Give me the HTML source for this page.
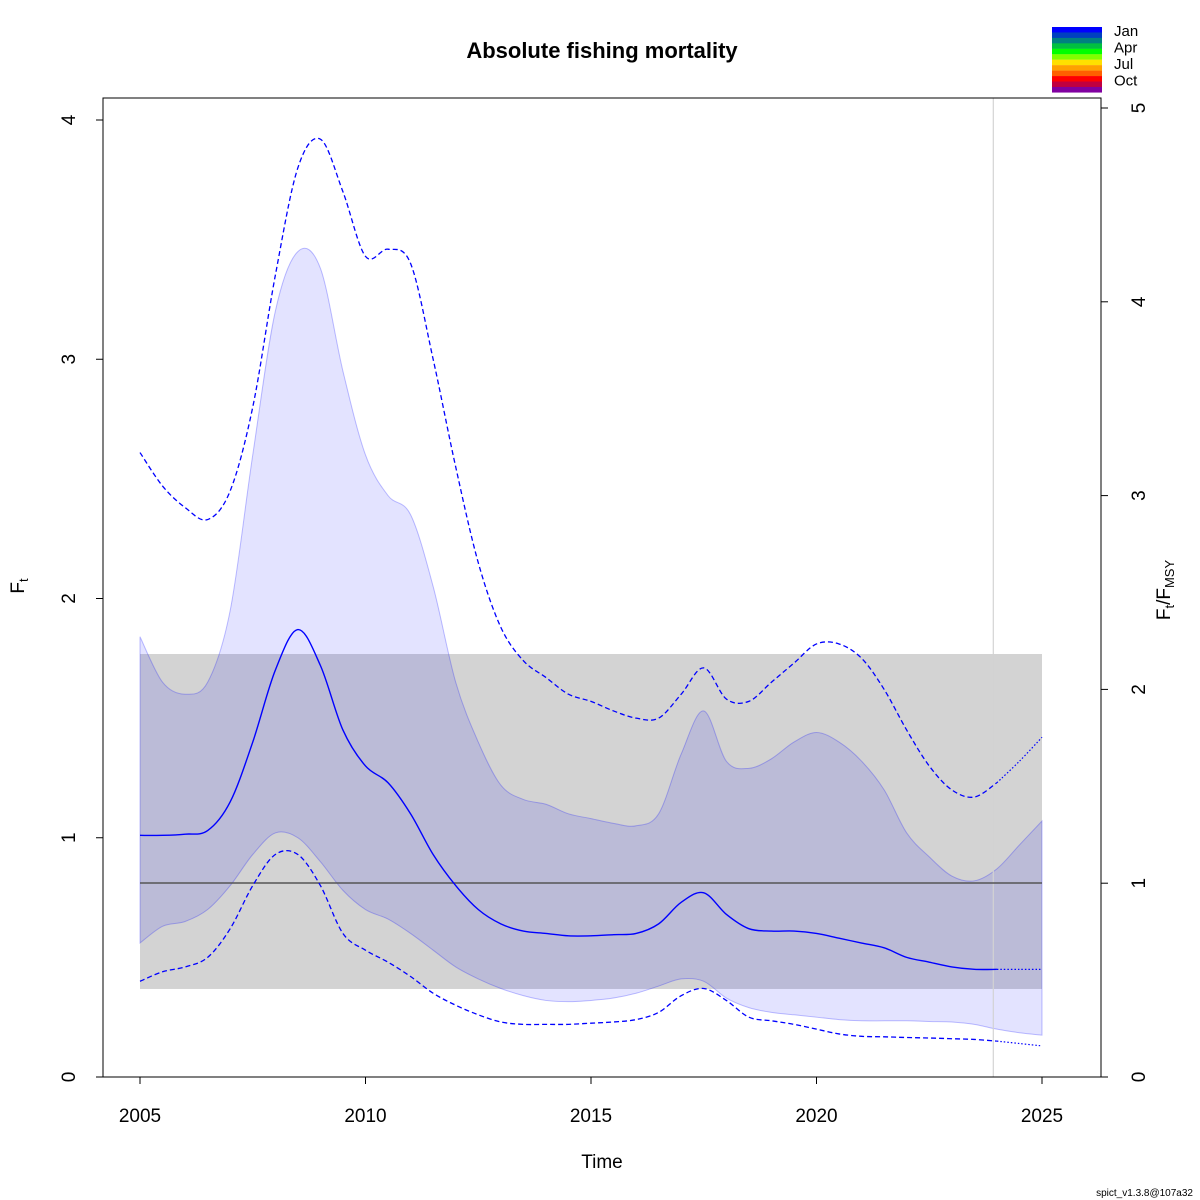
<!DOCTYPE html>
<html><head><meta charset="utf-8"><style>
body{margin:0;background:#fff}
svg{display:block;font-family:"Liberation Sans",sans-serif}
</style></head><body>
<svg id="c" width="1200" height="1200" viewBox="0 0 1200 1200" xmlns="http://www.w3.org/2000/svg"></svg>
<script>
const years=[];for(let y=2005;y<=2025.001;y+=0.5)years.push(y);
const median=[1.01,1.01,1.015,1.03,1.15,1.4,1.7,1.87,1.72,1.45,1.3,1.23,1.1,0.93,0.8,0.7,0.64,0.61,0.6,0.59,0.59,0.595,0.6,0.64,0.73,0.77,0.68,0.62,0.61,0.61,0.6,0.58,0.56,0.54,0.5,0.48,0.46,0.45,0.45,0.45,0.45];
const upperCI=[2.61,2.47,2.38,2.33,2.45,2.8,3.35,3.8,3.92,3.7,3.43,3.46,3.4,3.0,2.55,2.15,1.88,1.74,1.67,1.6,1.57,1.53,1.5,1.5,1.6,1.71,1.58,1.57,1.65,1.73,1.81,1.81,1.75,1.62,1.45,1.3,1.2,1.17,1.23,1.32,1.42];
const lowerCI=[0.4,0.44,0.46,0.5,0.62,0.8,0.93,0.93,0.8,0.6,0.53,0.48,0.42,0.35,0.3,0.26,0.23,0.22,0.22,0.22,0.225,0.23,0.24,0.27,0.34,0.37,0.32,0.25,0.235,0.22,0.2,0.18,0.17,0.168,0.165,0.163,0.16,0.157,0.15,0.14,0.13];
const bandHi=[1.84,1.65,1.6,1.65,1.95,2.6,3.2,3.45,3.38,2.95,2.6,2.43,2.35,2.05,1.65,1.4,1.22,1.16,1.14,1.1,1.08,1.06,1.05,1.1,1.35,1.53,1.32,1.29,1.33,1.4,1.44,1.4,1.32,1.2,1.02,0.92,0.84,0.82,0.87,0.97,1.07];
const bandLo=[0.56,0.63,0.65,0.7,0.8,0.93,1.02,1.0,0.9,0.78,0.7,0.66,0.6,0.53,0.46,0.41,0.37,0.34,0.32,0.315,0.32,0.33,0.35,0.38,0.41,0.4,0.33,0.29,0.27,0.26,0.25,0.24,0.235,0.235,0.235,0.232,0.23,0.22,0.2,0.185,0.175];
const Fmsy=0.811, FmsyLo=0.368, FmsyHi=1.768, lastObs=2023.92;
const xTicks=[2005,2010,2015,2020,2025];
const yTicks=[0,1,2,3,4];
const rTicks=[0,1,2,3,4,5];
const months=["Jan","Apr","Jul","Oct"];
const monthColors=["#0000ff","#0040c0","#008080","#00c040","#00ff00","#80ff00","#ffe000","#ffa000","#ff6000","#ff0000","#c00040","#8000a0"];

const X=y=>140+(y-2005)*(1042-140)/20;
const Y=v=>1077-v*239.25;
const svg=document.getElementById('c');
const NS='http://www.w3.org/2000/svg';
function mk(t,a,txt){const e=document.createElementNS(NS,t);for(const k in a)e.setAttribute(k,a[k]);if(txt!=null)e.textContent=txt;svg.appendChild(e);return e;}
function smooth(pts){let d='M'+pts[0][0]+','+pts[0][1];for(let i=0;i<pts.length-1;i++){const p0=pts[Math.max(0,i-1)],p1=pts[i],p2=pts[i+1],p3=pts[Math.min(pts.length-1,i+2)];
d+=' C'+(p1[0]+(p2[0]-p0[0])/6)+','+(p1[1]+(p2[1]-p0[1])/6)+' '+(p2[0]-(p3[0]-p1[0])/6)+','+(p2[1]-(p3[1]-p1[1])/6)+' '+p2[0]+','+p2[1];}return d;}
function pts(arr,from,to){const r=[];years.forEach((y,i)=>{if(y>=from&&y<=to)r.push([X(y),Y(arr[i])]);});return r;}

let e;
e=mk('rect',{x:X(2005),y:Y(FmsyHi),width:X(2025)-X(2005),height:Y(FmsyLo)-Y(FmsyHi),fill:'#d3d3d3'});

const hi=pts(bandHi,2005,2025),lo=pts(bandLo,2005,2025).reverse();
const bandD=smooth(hi)+' L'+lo[0][0]+','+lo[0][1]+smooth(lo).replace(/^M[^ ]+/,'')+' Z';
e=mk('path',{d:bandD,fill:'rgba(0,0,255,0.11)',stroke:'rgba(0,0,255,0.25)','stroke-width':1});

e=mk('line',{x1:X(lastObs),x2:X(lastObs),y1:98,y2:1077,stroke:'#d3d3d3','stroke-width':1.2});

e=mk('line',{x1:X(2005),x2:X(2025),y1:Y(Fmsy),y2:Y(Fmsy),stroke:'#555','stroke-width':1.5});

e=mk('path',{d:smooth(pts(upperCI,2005,2024)),fill:'none',stroke:'#0000ff','stroke-width':1.3,'stroke-dasharray':'5,3'});

e=mk('path',{d:smooth(pts(upperCI,2024,2025)),fill:'none',stroke:'#0000ff','stroke-width':1.2,'stroke-dasharray':'1.5,2'});

e=mk('path',{d:smooth(pts(lowerCI,2005,2024)),fill:'none',stroke:'#0000ff','stroke-width':1.3,'stroke-dasharray':'5,3'});

e=mk('path',{d:smooth(pts(lowerCI,2024,2025)),fill:'none',stroke:'#0000ff','stroke-width':1.2,'stroke-dasharray':'1.5,2'});

e=mk('path',{d:smooth(pts(median,2005,2024)),fill:'none',stroke:'#0000ff','stroke-width':1.4});

e=mk('path',{d:smooth(pts(median,2024,2025)),fill:'none',stroke:'#0000ff','stroke-width':1.2,'stroke-dasharray':'1.5,2'});

e=mk('rect',{x:103,y:98,width:998,height:979,fill:'none',stroke:'#000','stroke-width':1});

xTicks.forEach(t=>{const l=mk('line',{x1:X(t),x2:X(t),y1:1077,y2:1084,stroke:'#000'});

const tx=mk('text',{x:X(t),y:1122,'font-size':19,'text-anchor':'middle'},t);
});
yTicks.forEach(t=>{const l=mk('line',{x1:96,x2:103,y1:Y(t),y2:Y(t),stroke:'#000'});

const tx=mk('text',{x:75,y:Y(t),'font-size':19,'text-anchor':'middle',transform:'rotate(-90 75 '+Y(t)+')'},t);
});
const R=v=>1077-v*193.8;
rTicks.forEach(t=>{const l=mk('line',{x1:1101,x2:1108,y1:R(t),y2:R(t),stroke:'#000'});

const tx=mk('text',{x:1145,y:R(t),'font-size':19,'text-anchor':'middle',transform:'rotate(-90 1145 '+R(t)+')'},t);
});
e=mk('text',{x:602,y:58,'font-size':22,'font-weight':'bold','text-anchor':'middle'},'Absolute fishing mortality');

e=mk('text',{x:602,y:1168,'font-size':19,'text-anchor':'middle'},'Time');

e=mk('text',{x:24,y:586,'font-size':19,'text-anchor':'middle',transform:'rotate(-90 24 586)'});
e.innerHTML='F<tspan font-size="13" dy="4">t</tspan>';

e=mk('text',{x:1170,y:590,'font-size':19,'text-anchor':'middle',transform:'rotate(-90 1170 590)'});
e.innerHTML='F<tspan font-size="13" dy="4">t</tspan><tspan dy="-4">/F</tspan><tspan font-size="13" dy="4">MSY</tspan>';

monthColors.forEach((c,i)=>{const r=mk('rect',{x:1052,y:27+i*5.45,width:50,height:5.6,fill:c});
});
months.forEach((m,i)=>{const t=mk('text',{x:1114,y:36+i*16.5,'font-size':15},m);
});
e=mk('text',{x:1193,y:1196,'font-size':10,'text-anchor':'end'},'spict_v1.3.8@107a32');

</script>
</body></html>
